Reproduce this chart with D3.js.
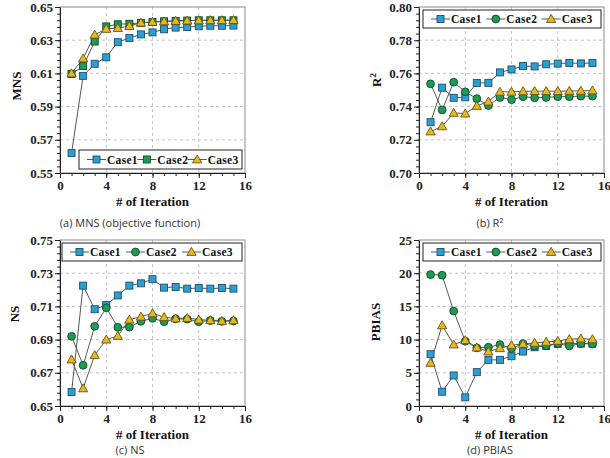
<!DOCTYPE html>
<html>
<head>
<meta charset="utf-8">
<script src="https://cdn.jsdelivr.net/npm/d3@7"></script>
<style>
  body { margin: 0; background: #fff; }
  svg { display: block; }
  svg text { font-family: "Liberation Serif", "Times New Roman", Tinos, serif; }
  .axis .tick text { font-family: "Liberation Serif", "Times New Roman", Tinos, serif; font-weight: bold; font-size: 13px; fill: #222; }
  .axis path, .axis line { stroke: #222; }
  .grid line { stroke: #c4c4c4; stroke-dasharray: 3,3; }
  .ytitle, .xtitle { font-weight: bold; font-size: 13px; fill: #111; }
  .leg text { font-weight: bold; font-size: 11.5px; letter-spacing: 0.3px; fill: #111; }
  svg text.caption { font-family: "Open Sans", sans-serif; font-size: 11px; fill: #333; }
</style>
</head>
<body>
<div id="chart"></div>
<script>
var iterations = [1, 2, 3, 4, 5, 6, 7, 8, 9, 10, 11, 12, 13, 14, 15];
var caseNames = ["Case1", "Case2", "Case3"];
var xTicks = [0, 4, 8, 12, 16];

// (a) MNS
var mnsCase1 = [0.562, 0.6085, 0.6158, 0.6197, 0.6288, 0.6313, 0.6335, 0.6347, 0.6366, 0.6376, 0.6379, 0.6384, 0.6387, 0.6387, 0.6388];
var mnsCase2 = [0.6097, 0.6144, 0.6292, 0.6383, 0.6396, 0.6399, 0.6404, 0.641, 0.6414, 0.6416, 0.6418, 0.642, 0.642, 0.642, 0.642];
var mnsCase3 = [0.61, 0.619, 0.6333, 0.6368, 0.6373, 0.6385, 0.6405, 0.641, 0.6413, 0.6416, 0.6418, 0.6419, 0.642, 0.642, 0.6421];
var mnsTicks = [0.55, 0.57, 0.59, 0.61, 0.63, 0.65];

// (b) R2
var r2Case1 = [0.7306, 0.7514, 0.7453, 0.7456, 0.7542, 0.7543, 0.7606, 0.7624, 0.7644, 0.7642, 0.7655, 0.7659, 0.7663, 0.766, 0.7663];
var r2Case2 = [0.7537, 0.738, 0.7547, 0.7489, 0.7448, 0.7406, 0.7455, 0.7442, 0.746, 0.7453, 0.7455, 0.746, 0.746, 0.7463, 0.7463];
var r2Case3 = [0.725, 0.7281, 0.7362, 0.7358, 0.7404, 0.743, 0.7489, 0.7489, 0.7492, 0.7493, 0.7493, 0.7493, 0.7494, 0.7495, 0.7497];
var r2Ticks = [0.70, 0.72, 0.74, 0.76, 0.78, 0.80];

// (c) NS
var nsCase1 = [0.6584, 0.7225, 0.7083, 0.7108, 0.7166, 0.7225, 0.7239, 0.7264, 0.7213, 0.7217, 0.7207, 0.7211, 0.7207, 0.7211, 0.7207];
var nsCase2 = [0.692, 0.6745, 0.698, 0.7092, 0.6974, 0.6975, 0.701, 0.7028, 0.7008, 0.7025, 0.7023, 0.7008, 0.7015, 0.701, 0.7012];
var nsCase3 = [0.678, 0.6606, 0.6806, 0.69, 0.6922, 0.702, 0.7038, 0.7058, 0.7035, 0.7027, 0.703, 0.702, 0.7016, 0.7012, 0.7016];
var nsTicks = [0.65, 0.67, 0.69, 0.71, 0.73, 0.75];

// (d) PBIAS
var pbCase1 = [7.8, 2.15, 4.6, 1.3, 5.1, 6.95, 6.95, 7.5, 8.2, 8.85, 9.05, 9.35, 9.4, 9.4, 9.4];
var pbCase2 = [19.8, 19.7, 14.3, 9.75, 8.75, 8.85, 9.25, 8.65, 9.4, 9.0, 9.1, 9.4, 9.05, 9.4, 9.35];
var pbCase3 = [6.5, 12.15, 9.25, 9.9, 8.8, 8.2, 8.7, 9.15, 9.35, 9.5, 9.65, 9.8, 10.05, 10.15, 10.05];
var pbTicks = [0, 5, 10, 15, 20, 25];

var fills = ["#2c9fd2", "#1f9a55", "#e8b820"];
var strokes = ["#1b4f6e", "#0f4a2a", "#6a5510"];
var lineColor = "#585858";

var W = 610, H = 458, pw = 185, ph = 166;

var panels = [
  {x: 60, y: 7, title: "MNS", sup: false, ticks: mnsTicks, fmt: ".2f", series: [mnsCase1, mnsCase2, mnsCase3],
   shapes: ["square", "square", "triangle"], titleX: 16, titleY: 86, caption: "(a) MNS (objective function)", capX: 130, capY: 227,
   legend: {x: 79, y: 150, w: 163, h: 19}},
  {x: 419, y: 7, title: "R", sup: true, ticks: r2Ticks, fmt: ".2f", series: [r2Case1, r2Case2, r2Case3],
   shapes: ["square", "circle", "triangle"], titleX: 376, titleY: 80, caption: "(b) R", capX: 490, capY: 227,
   legend: {x: 423, y: 10, w: 178, h: 18}},
  {x: 60, y: 240, title: "NS", sup: false, ticks: nsTicks, fmt: ".2f", series: [nsCase1, nsCase2, nsCase3],
   shapes: ["square", "circle", "triangle"], titleX: 14, titleY: 314, caption: "(c) NS", capX: 130, capY: 454,
   legend: {x: 62, y: 243, w: 180, h: 18}},
  {x: 419, y: 240, title: "PBIAS", sup: false, ticks: pbTicks, fmt: "d", series: [pbCase1, pbCase2, pbCase3],
   shapes: ["square", "circle", "triangle"], titleX: 375, titleY: 322, caption: "(d) PBIAS", capX: 490, capY: 454,
   legend: {x: 423, y: 243, w: 178, h: 18}}
];

var svg = d3.select("#chart").append("svg")
  .attr("width", W)
  .attr("height", H);

function drawMarker(g, shape, cx, cy, i) {
  if (shape == "square") {
    g.append("rect")
      .attr("x", cx - 3.5).attr("y", cy - 3.5)
      .attr("width", 7).attr("height", 7)
      .attr("fill", fills[i]).attr("stroke", strokes[i]).attr("stroke-width", 0.9);
  } else if (shape == "circle") {
    g.append("circle")
      .attr("cx", cx).attr("cy", cy).attr("r", 3.9)
      .attr("fill", fills[i]).attr("stroke", strokes[i]).attr("stroke-width", 0.9);
  } else {
    g.append("path")
      .attr("d", "M" + cx + "," + (cy - 4.6) + "L" + (cx + 4.6) + "," + (cy + 3.4) + "L" + (cx - 4.6) + "," + (cy + 3.4) + "Z")
      .attr("fill", fills[i]).attr("stroke", strokes[i]).attr("stroke-width", 0.9);
  }
}

panels.forEach(function (p) {
  var g = svg.append("g").attr("transform", "translate(" + p.x + "," + p.y + ")");

  var x = d3.scaleLinear().domain([0, 16]).range([0, pw]);
  var y = d3.scaleLinear().domain([p.ticks[0], p.ticks[p.ticks.length - 1]]).range([ph, 0]);
  var step = p.ticks[1] - p.ticks[0];

  // gridlines
  var grid = g.append("g").attr("class", "grid");
  grid.selectAll("line.gx")
    .data(xTicks.slice(1, -1))
    .enter().append("line")
      .attr("x1", function (d) { return x(d); }).attr("x2", function (d) { return x(d); })
      .attr("y1", 0).attr("y2", ph);
  grid.selectAll("line.gy")
    .data(p.ticks.slice(1, -1))
    .enter().append("line")
      .attr("x1", 0).attr("x2", pw)
      .attr("y1", function (d) { return y(d); }).attr("y2", function (d) { return y(d); });

  // frame
  g.append("rect")
    .attr("width", pw).attr("height", ph)
    .attr("fill", "none").attr("stroke", "#8a8a8a").attr("stroke-width", 1);

  // minor ticks
  var minorY = d3.range(p.ticks[0], p.ticks[p.ticks.length - 1] + step / 10, step / 5);
  g.append("g").attr("class", "axis")
    .call(d3.axisLeft(y).tickValues(minorY).tickSize(3).tickFormat(""))
    .select(".domain").remove();
  g.append("g").attr("class", "axis")
    .attr("transform", "translate(0," + ph + ")")
    .call(d3.axisBottom(x).tickValues(d3.range(0, 17)).tickSize(3).tickFormat(""))
    .select(".domain").remove();

  // major axes
  g.append("g").attr("class", "axis")
    .call(d3.axisLeft(y).tickValues(p.ticks).tickSize(5).tickSizeOuter(0).tickPadding(2).tickFormat(d3.format(p.fmt)));
  g.append("g").attr("class", "axis")
    .attr("transform", "translate(0," + ph + ")")
    .call(d3.axisBottom(x).tickValues(xTicks).tickSize(5).tickSizeOuter(0).tickPadding(3));

  // series
  var line = d3.line()
    .x(function (d, i) { return x(iterations[i]); })
    .y(function (d) { return y(d); });

  p.series.forEach(function (s, k) {
    g.append("path")
      .datum(s)
      .attr("d", line)
      .attr("fill", "none")
      .attr("stroke", lineColor)
      .attr("stroke-width", 1);
  });
  p.series.forEach(function (s, k) {
    var mg = g.append("g");
    s.forEach(function (v, i) {
      drawMarker(mg, p.shapes[k], x(iterations[i]), y(v), k);
    });
  });

  // legend
  var L = p.legend;
  var leg = svg.append("g").attr("class", "leg");
  leg.append("rect")
    .attr("x", L.x).attr("y", L.y).attr("width", L.w).attr("height", L.h)
    .attr("fill", "#fff").attr("stroke", "#222").attr("stroke-width", 1);
  var itemW = (L.w - 12) / 3;
  caseNames.forEach(function (name, k) {
    var lx = L.x + 8 + k * itemW, ly = L.y + L.h / 2;
    leg.append("line")
      .attr("x1", lx).attr("x2", lx + 19).attr("y1", ly).attr("y2", ly)
      .attr("stroke", lineColor).attr("stroke-width", 1);
    drawMarker(leg, p.shapes[k], lx + 9.5, ly, k);
    leg.append("text")
      .attr("x", lx + 20).attr("y", ly + 4)
      .text(name);
  });

  // titles
  var yt = svg.append("text")
    .attr("class", "ytitle")
    .attr("text-anchor", "middle")
    .attr("transform", "translate(" + (p.titleX + 5) + "," + p.titleY + ") rotate(-90)")
    .text(p.title);
  if (p.sup) {
    yt.append("tspan").attr("dy", -5).style("font-size", "9px").text("2");
  }
  svg.append("text")
    .attr("class", "xtitle")
    .attr("text-anchor", "middle")
    .attr("x", p.x + pw / 2)
    .attr("y", p.y + ph + 33)
    .text("# of Iteration");

  var cap = svg.append("text")
    .attr("class", "caption")
    .attr("text-anchor", "middle")
    .attr("x", p.capX)
    .attr("y", p.capY)
    .text(p.caption);
  if (p.sup) {
    cap.append("tspan").attr("dy", -4).style("font-size", "7px").text("2");
  }
});
</script>
</body>
</html>
